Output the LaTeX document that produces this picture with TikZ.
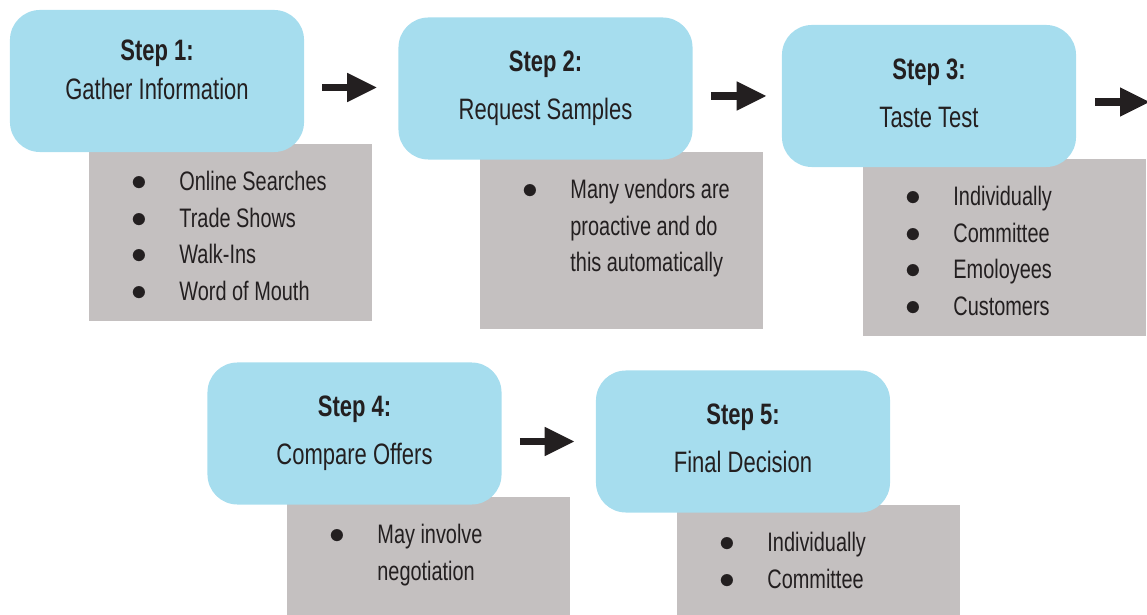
\documentclass[tikz,border=0pt]{standalone}
\usepackage{fontspec}
\setmainfont{Liberation Sans}[FakeStretch=0.745]
\usetikzlibrary{arrows.meta}

\definecolor{stepblue}{HTML}{A6DDEE}
\definecolor{notegray}{HTML}{C4C0C0}
\definecolor{ink}{HTML}{231F20}

\tikzset{
  stepbox/.style={fill=stepblue, rounded corners=0.75cm, minimum width=7.35cm,
    minimum height=3.55cm, align=center, text=ink, text depth=4.4pt,
    font=\fontsize{21}{34}\selectfont},
  notebox/.style={fill=notegray, minimum width=7.075cm, minimum height=4.425cm,
    anchor=north west, inner sep=0pt},
  notetext/.style={anchor=north west, inner sep=0pt, text=ink,
    font=\fontsize{19}{26}\selectfont},
  flowarrow/.style={ink, line width=5pt, -{Triangle[length=0.75cm, width=0.68cm]}},
}
\newcommand{\dotmark}{\scalebox{1.3}{$\bullet$}}
\newcommand{\notelist}[1]{\begin{tabular}{@{}c@{\hspace{23pt}}l@{}}#1\end{tabular}}

\begin{document}
\begin{tikzpicture}[x=0.025cm, y=-0.025cm]
  \clip (0,0) rectangle (1147,615);

  % grey note boxes (under the steps)
  \node[notebox] (g1) at (89,144) {};
  \node[notebox] (g2) at (480,152) {};
  \node[notebox] (g3) at (863,159) {};
  \node[notebox] (g4) at (287,497) {};
  \node[notebox] (g5) at (677,505) {};

  \node[notetext] (l1) at ([shift={(42,21)}]g1.north west) {\notelist{
    \dotmark & Online Searches\\ \dotmark & Trade Shows\\
    \dotmark & Walk-Ins\\ \dotmark & Word of Mouth}};
  \node[notetext] (l2) at ([shift={(42,21)}]g2.north west) {\notelist{
    \dotmark & Many vendors are\\ & proactive and do\\ & this automatically}};
  \node[notetext] (l3) at ([shift={(42,21)}]g3.north west) {\notelist{
    \dotmark & Individually\\ \dotmark & Committee\\
    \dotmark & Emoloyees\\ \dotmark & Customers}};
  \node[notetext] (l4) at ([shift={(42,21)}]g4.north west) {\notelist{
    \dotmark & May involve\\ & negotiation}};
  \node[notetext] (l5) at ([shift={(42,21)}]g5.north west) {\notelist{
    \dotmark & Individually\\ \dotmark & Committee}};

  % the five steps
  \node[stepbox, text depth=15.8pt] (s1) at (157,81) {\textbf{Step 1:}\\[-6pt] Gather Information};
  \node[stepbox] (s2) at (545.5,88.5) {\textbf{Step 2:}\\ Request Samples};
  \node[stepbox] (s3) at (929,96) {\textbf{Step 3:}\\ Taste Test};
  \node[stepbox] (s4) at (354.5,433.5) {\textbf{Step 4:}\\ Compare Offers};
  \node[stepbox] (s5) at (743,441.5) {\textbf{Step 5:}\\ Final Decision};

  \coordinate (edge) at (1150,102);

  % arrows between steps
  \draw[flowarrow] (s1.east |- s2.west) ++(18,-1) -- ([shift={(-21,-1)}]s2.west);
  \draw[flowarrow] (s2.east |- s3.west) ++(18,0) -- ([xshift=-0.375cm]s3.west);
  \draw[flowarrow] (s3.east |- edge) ++(19,0) -- (edge);
  \draw[flowarrow] (s4.east |- s5.west) ++(18,0) -- ([xshift=-0.525cm]s5.west);
\end{tikzpicture}
\end{document}
